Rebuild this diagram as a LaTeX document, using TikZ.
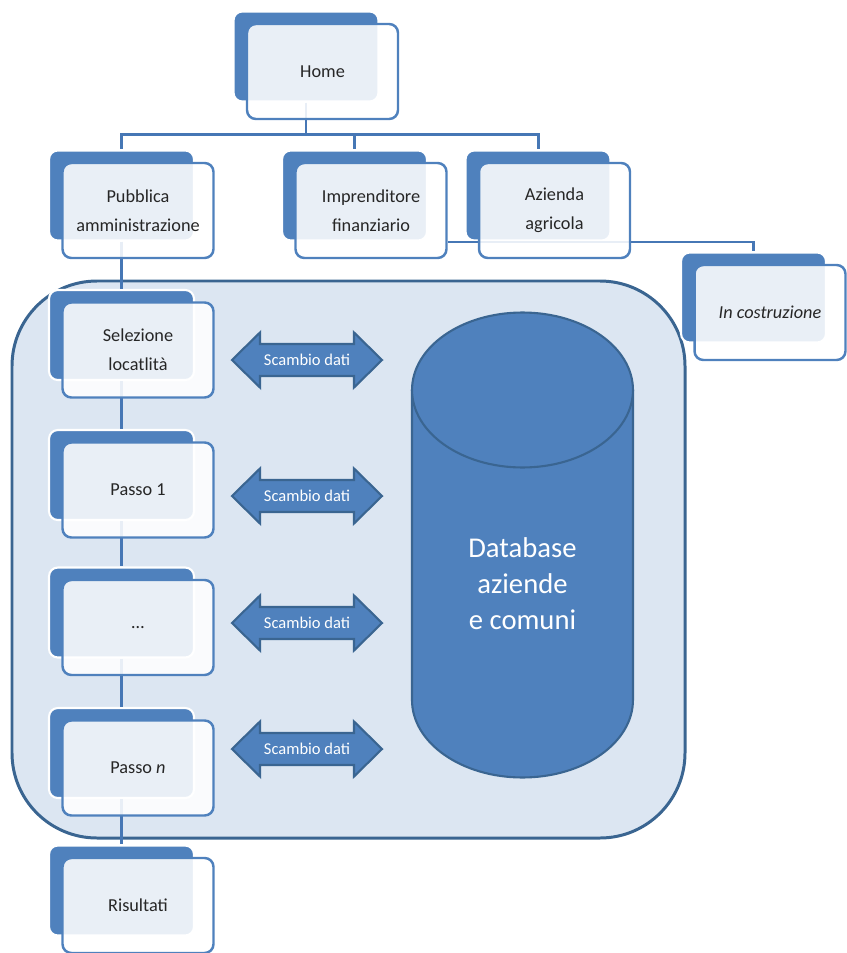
\documentclass[tikz,border=0pt]{standalone}
\usepackage{fontspec}
\setmainfont{Carlito}
\usetikzlibrary{calc}
\definecolor{blu}{HTML}{4F81BD}
\definecolor{bluscuro}{HTML}{3A6591}
\definecolor{linea}{HTML}{4677B5}
\definecolor{celeste}{HTML}{DCE6F2}
\definecolor{testo}{HTML}{262626}
\newcommand{\retro}[3]{\node[retro] (#1b) at ({#2-16.5},{#3-15}) {};}
\newcommand{\fronte}[4]{\node[fronte] (#1) at (#2,#3) {#4};}
\newcommand{\scambio}[2]{%
	\draw[freccia] (232,#2) -- ++(28,-27.5) -- ++(0,11.5) -- ++(94,0) -- ++(0,-11.5) -- ++(28,27.5)
	-- ++(-28,27.5) -- ++(0,-11.5) -- ++(-94,0) -- ++(0,11.5) -- cycle;
	\node[scritta] (#1) at (307,#2) {Scambio dati};}

\begin{document}
\begin{tikzpicture}[x=0.02cm, y=-0.02cm,
	retro/.style={rectangle, rounded corners=5pt, fill=blu, draw=white, line width=1.2pt, minimum width=2.9cm, minimum height=1.8cm, inner sep=0pt},
	fronte/.style={rectangle, rounded corners=5pt, fill=white, fill opacity=0.88, text opacity=1, draw=blu, line width=1.4pt, minimum width=3.02cm, minimum height=1.9cm, inner sep=0pt, align=center, text=testo, font=\fontsize{10.4}{16.3}\selectfont},
	conn/.style={draw=linea, line width=1.7pt},
	gruppo/.style={fill=celeste, draw=bluscuro, line width=1.7pt, rounded corners=1.7cm},
	cilindro/.style={fill=blu, draw=bluscuro, line width=1.2pt},
	freccia/.style={fill=blu, draw=bluscuro, line width=1.2pt, line join=miter},
	scritta/.style={text=white, font=\fontsize{9.4}{11}\selectfont}]
	\useasboundingbox (0,0) rectangle (846,953);
	\draw[gruppo] (12,281) rectangle (685,838);
	\retro{home}{322.5}{71.5}
	\retro{pub}{138}{210.5}
	\retro{imp}{371}{210.5}
	\retro{azi}{554.5}{210.5}
	\retro{costr}{770}{312.5}
	\retro{sel}{138}{350}
	\retro{pa}{138}{490}
	\retro{pdots}{138}{627.5}
	\retro{pn}{138}{768}
	\retro{ris}{138}{905.5}
	\draw[conn] (homeb.south) -- ++(0,32) coordinate (snodo) -| (pubb.north);
	\draw[conn] (snodo) -| (impb.north);
	\draw[conn] (snodo) -| (azib.north);
	\coordinate (giro) at (448,242);
	\draw[conn] (giro) -| (costrb.north);
	\draw[conn] (pubb.south) -- (selb.north);
	\draw[conn] (selb.south) -- (pab.north);
	\draw[conn] (pab.south) -- (pdotsb.north);
	\draw[conn] (pdotsb.south) -- (pnb.north);
	\draw[conn] (pnb.south) -- (risb.north);
	\draw[cilindro] (412,390) -- (412,700) arc[start angle=180, end angle=360, x radius=2.21cm, y radius=1.55cm] -- (633,390);
	\draw[cilindro] (522.5,390) ellipse[x radius=2.21cm, y radius=1.55cm];
	\node[align=center, text=white, font=\fontsize{16.3}{20.5}\selectfont] (db) at (522.5,584) {Database\\aziende\\e comuni};
	\scambio{scsel}{360}
	\scambio{scpa}{496}
	\scambio{scdots}{623}
	\scambio{scpn}{749}
	\fronte{home}{322.5}{71.5}{Home}
	\fronte{pub}{138}{210.5}{Pubblica\\amministrazione}
	\fronte{imp}{371}{210.5}{Imprenditore\\finanziario}
	\fronte{azi}{554.5}{210.5}{Azienda\\agricola}
	\fronte{costr}{770}{312.5}{\itshape In costruzione}
	\fronte{sel}{138}{350}{Selezione\\locatlità}
	\fronte{pa}{138}{490}{Passo 1}
	\fronte{pdots}{138}{627.5}{…}
	\fronte{pn}{138}{768}{Passo \textit{n}}
	\fronte{ris}{138}{905.5}{Risultati}
\end{tikzpicture}
\end{document}
